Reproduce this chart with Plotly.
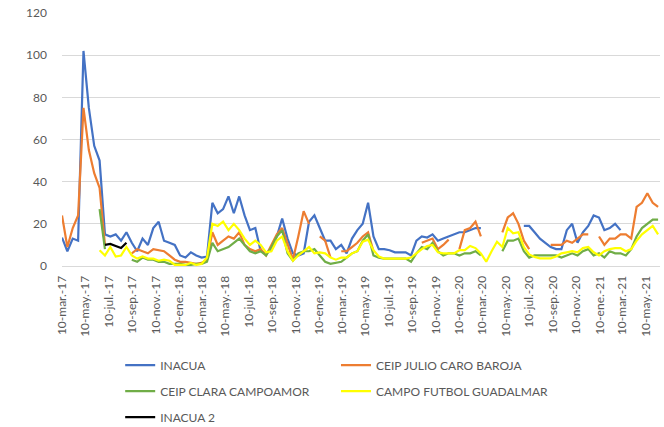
import pandas as pd
import plotly.graph_objects as go

# biweekly sampling dates
dates = pd.date_range("2017-03-10", periods=112, freq="14D").strftime("%Y-%m-%d").tolist()

N = None
inacua = [13.5, 7, 13, 12, 102, 75, 57, 50, 15, 14,
          15, 12, 16, 11, 7, 13, 10, 18, 21, 12,
          11, 10, 5, 4, 6.5, 5, 4, 4.5, 30, 25,
          27, 33, 25, 33, 24, 17, 18, 7, 6, 8,
          14, 22.5, 13, 6, 5, 6, 21, 24, 18, 12,
          12, 8, 10, 6, 13, 17, 20, 30, 14, 8,
          8, 7.5, 6.5, 6.5, 6.5, 5, 12, 14, 13.5, 15,
          12, 13, 14, 15, 16, 16, 17, 18, 18, N,
          N, N, N, N, N, N, 19, 19, 16, 13,
          11, 9, 8, 8, 17, 20, 11, 16, 19, 24,
          23, 17, 18, 20, 17, N, N, N, N, N,
          N, N]

julio_caro = [24, 9, 18, 24, 75, 55, 44, 37, 10, N,
              N, N, N, 6, 8, 7, 6, 8, 7.5, 7,
              5, 3, 2, 2, 1.5, 1, 1.5, 3, 16, 10,
              12, 14, 13, 16, 10, 8, 7, 8, 5, 10,
              15, 18, 10, 3, 14, 26, 20, N, 14, 12,
              4, N, 7, 7, 9, 11, 14, 16, 7, N,
              N, N, N, N, N, N, N, 11, 12, 13,
              8, 10, 12.5, N, 8, 17, 18, 21, 14, N,
              N, N, 16, 23, 25, 20, 12, 8, N, N,
              N, 10, 10, 10, 12, 11, 13, 15, 15, N,
              14, 10, 13, 13, 15, 15, 13, 28, 30, 34.5,
              30, 28]

clara_campoamor = [N, N, N, N, N, N, N, 27, 8, N,
                   N, N, N, 3, 2, 4, 3, 3, 2, 2,
                   1, 1, 1, 0.5, 0.5, 1, 1, 2, 11, 7,
                   8, 9, 11, 13, 10, 7, 6, 7, 5, 9,
                   14, 17, 6, 2.5, 6, 7, 7, 8, 5, 2,
                   1, 1.5, 2, 4, 6, 7, 12, 15, 5, 4,
                   3.5, 3.5, 3.5, 3.5, 3.5, 2, 6, 9, 8, 11,
                   7, 5, 6, 6, 5, 6, 6, 7, 5, N,
                   N, N, 7, 12, 12, 13, 7, 4, 5, 5,
                   5, 5, 5, 4, 5, 6, 5, 7, 8, 5,
                   6, 4, 7, 6, 6, 5, 8, 14, 18, 20,
                   22, 22]

campo_futbol = [N, N, N, N, N, N, N, 7.5, 5, 9,
                4.5, 5, 9, 5, 3.5, 4.5, 3.5, 3.5, 2.5, 3,
                2.5, 0.5, 0.5, 0.5, 1.5, 0.5, 1, 4, 20, 19,
                21, 17, 20, 17, 13, 10, 12, 10, 6.5, 7,
                12, 14, 7, 2.5, 5, 7, 9, 6, 6.5, 6,
                4, 3, 4, 4, 6, 7, 11.5, 12.5, 7.5, 4.5,
                3.5, 3.5, 3.5, 3.5, 3.5, 4, 6, 8, 9.5, 10,
                6.5, 6, 6, 6, 7.5, 7.5, 9.5, 8.5, 6, 2,
                7, 11.5, 9, 18, 15.5, 16, 9, 5.5, 4.3, 3.6,
                3.6, 3.6, 4.5, 6, 6.5, 7, 6.5, 8.5, 9, 6.5,
                5, 7, 8, 8.5, 8.5, 7, 8, 12, 15, 17,
                19, 15]

inacua2 = [N, N, N, N, N, N, N, N, 10, 10.5,
           9.5, 8.5, 11, N, N, N, N, N, N, N] + [N] * 92

series_names = ["INACUA", "CEIP JULIO CARO BAROJA", "CEIP CLARA CAMPOAMOR",
                "CAMPO FUTBOL GUADALMAR", "INACUA 2"]
series_values = [inacua, julio_caro, clara_campoamor, campo_futbol, inacua2]
series_colors = ["#4472C4", "#ED7D31", "#70AD47", "#FFFF00", "#000000"]
series_legend = ["legend", "legend2", "legend", "legend2", "legend"]

tick_dates = ["2017-03-10", "2017-05-10", "2017-07-10", "2017-09-10", "2017-11-10",
              "2018-01-10", "2018-03-10", "2018-05-10", "2018-07-10", "2018-09-10",
              "2018-11-10", "2019-01-10", "2019-03-10", "2019-05-10", "2019-07-10",
              "2019-09-10", "2019-11-10", "2020-01-10", "2020-03-10", "2020-05-10",
              "2020-07-10", "2020-09-10", "2020-11-10", "2021-01-10", "2021-03-10",
              "2021-05-10"]
tick_labels = ["10-mar.-17", "10-may.-17", "10-jul.-17", "10-sep.-17", "10-nov.-17",
               "10-ene.-18", "10-mar.-18", "10-may.-18", "10-jul.-18", "10-sep.-18",
               "10-nov.-18", "10-ene.-19", "10-mar.-19", "10-may.-19", "10-jul.-19",
               "10-sep.-19", "10-nov.-19", "10-ene.-20", "10-mar.-20", "10-may.-20",
               "10-jul.-20", "10-sep.-20", "10-nov.-20", "10-ene.-21", "10-mar.-21",
               "10-may.-21"]

FONT = "Lato, 'Open Sans', sans-serif"
GREY = "#595959"

fig = go.Figure()
for k, (name, vals, col, lg) in enumerate(zip(series_names, series_values,
                                              series_colors, series_legend)):
    fig.add_trace(go.Scatter(
        x=dates, y=vals, name=name, mode="lines",
        line=dict(color=col, width=2.2),
        connectgaps=False, legend=lg, legendgroup=name,
    ))

fig.update_layout(
    width=664, height=427,
    margin=dict(l=62, r=4, t=13, b=161, autoexpand=False),
    paper_bgcolor="white", plot_bgcolor="white",
    font=dict(family=FONT, color=GREY, size=12),
    legend=dict(xref="container", yref="container", x=0.181, y=0.179,
                xanchor="left", yanchor="top", orientation="v",
                tracegroupgap=7, font=dict(size=12, color=GREY),
                bgcolor="rgba(0,0,0,0)", itemwidth=30),
    legend2=dict(xref="container", yref="container", x=0.506, y=0.179,
                 xanchor="left", yanchor="top", orientation="v",
                 tracegroupgap=7, font=dict(size=12, color=GREY),
                 bgcolor="rgba(0,0,0,0)", itemwidth=30),
)
fig.update_xaxes(
    type="date", range=["2017-03-10", "2021-06-16"],
    tickmode="array", tickvals=tick_dates, ticktext=tick_labels,
    tickangle=-90, tickfont=dict(size=12, color=GREY),
    showgrid=False, showline=True, linecolor="#d9d9d9", linewidth=1,
    ticks="", zeroline=False, ticklabelstandoff=4, automargin=False,
)
fig.update_yaxes(
    range=[0, 120], dtick=20, tick0=0,
    showgrid=True, gridcolor="#d9d9d9", gridwidth=1,
    zeroline=False, showline=False, ticks="", automargin=False,
    tickfont=dict(size=12, color=GREY), ticklabelstandoff=14,
)

fig.write_html("out.html",
               config={"displayModeBar": False},
               post_script="document.body.style.margin='0';document.body.style.padding='0';")
